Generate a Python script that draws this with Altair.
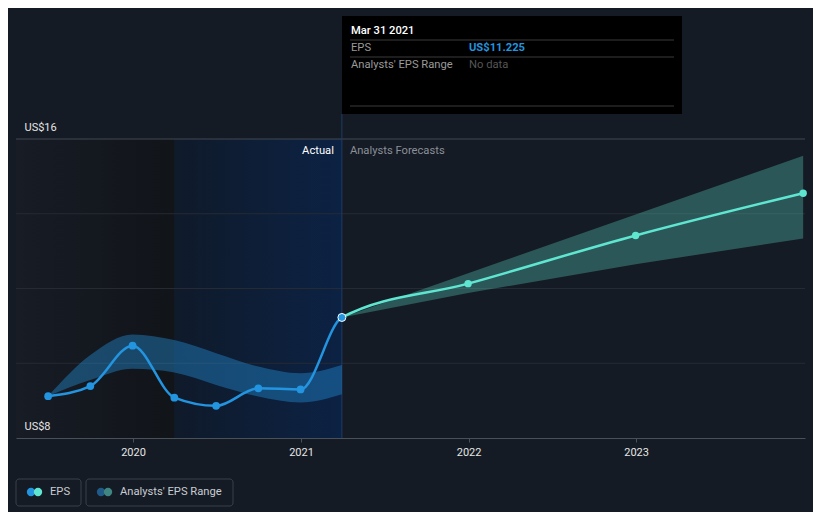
import altair as alt
import pandas as pd

# ---------------- data ----------------
hist_dates = ["2019-06-30", "2019-09-30", "2019-12-31", "2020-03-31",
              "2020-06-30", "2020-09-30", "2020-12-31", "2021-03-31"]
hist_eps = [9.12, 9.39, 10.47, 9.08, 8.86, 9.33, 9.30, 11.225]
hist_low = [9.12, 9.55, 9.85, 9.75, 9.42, 9.11, 8.95, 9.17]
hist_high = [9.12, 10.22, 10.77, 10.62, 10.27, 9.91, 9.73, 9.95]

fc_dates = ["2021-03-31", "2021-12-31", "2022-12-31", "2023-12-31"]
fc_eps = [11.225, 12.13, 13.42, 14.55]
fc_low = [11.225, 11.88, 12.65, 13.34]
fc_high = [11.225, 12.41, 13.98, 15.55]

y_grid = [10, 12, 14]
y_top = [16]
y_label_values = [8, 16]
x_tick_years = [2020, 2021, 2022, 2023]

region_start = ["2019-04-21", "2020-03-31"]
region_end = ["2020-03-31", "2021-03-31"]
now_date = "2021-03-31"

BG = "#151b24"
BLUE = "#2394df"
TEAL = "#5fe6d1"
FONT = "Roboto"
FS = 11.2

hist = pd.DataFrame({"date": hist_dates, "eps": hist_eps, "low": hist_low, "high": hist_high})
fc = pd.DataFrame({"date": fc_dates, "eps": fc_eps, "low": fc_low, "high": fc_high})
full = pd.DataFrame({"date": hist_dates + fc_dates[1:], "eps": hist_eps + fc_eps[1:]})
one = pd.DataFrame({"a": [0]})

# fraction of the full line's x-extent where actual turns into forecast
_t = pd.to_datetime(full["date"])
split = float((pd.Timestamp(now_date) - _t.min()) / (_t.max() - _t.min()))

xscale = alt.Scale(domain=[alt.DateTime(year=2019, month=4, date=21),
                           alt.DateTime(year=2024, month=1, date=4)])
yscale = alt.Scale(domain=[8, 19.291], nice=False, zero=False)

AXX = alt.Axis(values=[alt.DateTime(year=y, month=1, date=1) for y in x_tick_years],
               format="%Y", grid=False, domainColor="#4a5058", tickColor="#4a5058",
               tickSize=4, labelColor="#e6e6e6", labelFontSize=11, labelPadding=4,
               labelFont=FONT, title=None, zindex=1)
AXY = alt.Axis(values=y_label_values, labelExpr="'US$' + datum.value", grid=False,
               domain=False, ticks=False, tickSize=0, labelAlign="left",
               labelPadding=-8, labelBaseline="middle", labelOffset=-12,
               labelColor="#e6e6e6", labelFontSize=11, labelFont=FONT, title=None, zindex=1)


def X(field="date"):
    return alt.X(f"{field}:T", scale=xscale, axis=AXX, title=None)


def Y(field):
    return alt.Y(f"{field}:Q", scale=yscale, axis=AXY, title=None)


# ---------------- background regions ----------------
dark_region = alt.Chart(pd.DataFrame({"s": [region_start[0]], "e": [region_end[0]], "top": [16], "bot": [8]})).mark_rect(
    color=alt.LinearGradient(gradient="linear", x1=0, x2=1, y1=0, y2=0,
                             stops=[alt.GradientStop(color="#171c25", offset=0),
                                    alt.GradientStop(color="#111419", offset=1)])
).encode(x=X("s"), x2="e:T", y=Y("top"), y2="bot:Q")

blue_region = alt.Chart(pd.DataFrame({"s": [region_start[1]], "e": [region_end[1]], "top": [16], "bot": [8]})).mark_rect(
    color=alt.LinearGradient(gradient="linear", x1=0, x2=1, y1=0, y2=0,
                             stops=[alt.GradientStop(color="#0f1a2a", offset=0),
                                    alt.GradientStop(color="#0c2244", offset=1)])
).encode(x=X("s"), x2="e:T", y=Y("top"), y2="bot:Q")

grid = alt.Chart(pd.DataFrame({"y": y_grid})).mark_rule(color="#262b33", strokeWidth=1).encode(y=Y("y"))
top_grid = alt.Chart(pd.DataFrame({"y": y_top})).mark_rule(color="#434952", strokeWidth=1).encode(y=Y("y"))

now_line = alt.Chart(pd.DataFrame({"date": [now_date]})).mark_rule(color="#1d3c66", strokeWidth=1).encode(
    x=X(), y=alt.value(98), y2=alt.value(422))

# ---------------- bands ----------------
hist_band = alt.Chart(hist).mark_area(color=BLUE, opacity=0.4, interpolate="monotone").encode(
    x=X(), y=Y("high"), y2="low:Q")
fc_band = alt.Chart(fc).mark_area(color=TEAL, opacity=0.3, interpolate="linear").encode(
    x=X(), y=Y("high"), y2="low:Q")

# ---------------- line (actual -> forecast, one continuous curve) ----------------
eps_line = alt.Chart(full).mark_line(
    strokeWidth=2.5, interpolate="monotone",
    color=alt.LinearGradient(gradient="linear", x1=0, x2=1, y1=0, y2=0,
                             stops=[alt.GradientStop(color=BLUE, offset=0),
                                    alt.GradientStop(color=BLUE, offset=split),
                                    alt.GradientStop(color=TEAL, offset=split),
                                    alt.GradientStop(color=TEAL, offset=1)])
).encode(x=X(), y=Y("eps"))

hist_pts = alt.Chart(hist.iloc[:-1]).mark_circle(color=BLUE, size=60, opacity=1).encode(x=X(), y=Y("eps"))
fc_pts = alt.Chart(fc.iloc[1:]).mark_circle(color=TEAL, size=55, opacity=1).encode(x=X(), y=Y("eps"))
last_pt = alt.Chart(hist.iloc[-1:]).mark_point(filled=True, fill=BLUE, stroke="#ffffff", strokeWidth=1,
                                               size=64, opacity=1, shape="circle").encode(x=X(), y=Y("eps"))

# ---------------- annotations ----------------
ann = pd.DataFrame({"date": [now_date], "y": [16]})
actual_txt = alt.Chart(ann).mark_text(text="Actual", align="right", baseline="middle", dx=-8, dy=12,
                                      color="#ffffff", fontSize=FS, font=FONT).encode(x=X(), y=Y("y"))
fc_txt = alt.Chart(ann).mark_text(text="Analysts Forecasts", align="left", baseline="middle", dx=8, dy=12,
                                  color="#8a8f98", fontSize=FS, font=FONT).encode(x=X(), y=Y("y"))

# ---------------- tooltip box ----------------
tip_box = alt.Chart(one).mark_rect(color="#000000").encode(
    x=alt.value(326), x2=alt.value(666), y=alt.value(0), y2=alt.value(98))
tip_lines = [
    alt.Chart(one).mark_rule(color="#3a3a3a", strokeWidth=1).encode(
        x=alt.value(334), x2=alt.value(658), y=alt.value(yy)) for yy in (24, 41, 90)
]
tip_texts = [
    alt.Chart(one).mark_text(text="Mar 31 2021", align="left", baseline="middle", color="#ffffff",
                             fontSize=FS, fontWeight=500, font=FONT).encode(x=alt.value(335), y=alt.value(15)),
    alt.Chart(one).mark_text(text="EPS", align="left", baseline="middle", color="#9a9a9a",
                             fontSize=FS, font=FONT).encode(x=alt.value(335), y=alt.value(32)),
    alt.Chart(one).mark_text(text="US$11.225", align="left", baseline="middle", color=BLUE,
                             fontSize=FS, fontWeight="bold", font=FONT).encode(x=alt.value(453), y=alt.value(32)),
    alt.Chart(one).mark_text(text="Analysts' EPS Range", align="left", baseline="middle", color="#9a9a9a",
                             fontSize=FS, font=FONT).encode(x=alt.value(335), y=alt.value(49)),
    alt.Chart(one).mark_text(text="No data", align="left", baseline="middle", color="#555555",
                             fontSize=FS, font=FONT).encode(x=alt.value(453), y=alt.value(49)),
]

# ---------------- legend ----------------
legend_layers = [
    alt.Chart(one).mark_rect(fill=BG, stroke="#3a4049", strokeWidth=1, cornerRadius=3).encode(
        x=alt.value(0), x2=alt.value(65), y=alt.value(463), y2=alt.value(490)),
    alt.Chart(one).mark_rect(fill=BG, stroke="#3a4049", strokeWidth=1, cornerRadius=3).encode(
        x=alt.value(70), x2=alt.value(217), y=alt.value(463), y2=alt.value(490)),
    alt.Chart(one).mark_circle(color=BLUE, size=70, opacity=1).encode(x=alt.value(15), y=alt.value(476)),
    alt.Chart(one).mark_circle(color=TEAL, size=70, opacity=1).encode(x=alt.value(22), y=alt.value(476)),
    alt.Chart(one).mark_circle(color="#1f5a88", size=70, opacity=1).encode(x=alt.value(85), y=alt.value(476)),
    alt.Chart(one).mark_circle(color="#3f8682", size=70, opacity=1).encode(x=alt.value(92), y=alt.value(476)),
    alt.Chart(one).mark_text(text="EPS", align="left", baseline="middle", color="#c8ccd2",
                             fontSize=FS, font=FONT).encode(x=alt.value(34), y=alt.value(476)),
    alt.Chart(one).mark_text(text="Analysts' EPS Range", align="left", baseline="middle", color="#c8ccd2",
                             fontSize=FS, font=FONT).encode(x=alt.value(104), y=alt.value(476)),
]

chart = alt.layer(
    dark_region, blue_region, grid, top_grid, now_line,
    hist_band, fc_band, eps_line, hist_pts, fc_pts, last_pt,
    actual_txt, fc_txt, tip_box, *tip_lines, *tip_texts, *legend_layers
).properties(
    width=789, height=422,
    autosize=alt.AutoSizeParams(type="none"),
    padding={"left": 8, "top": 8, "right": 8, "bottom": 74},
    background=BG,
).configure(font=FONT).configure_view(strokeWidth=0)

chart.save("out.html", embed_options={"renderer": "svg", "actions": False})
